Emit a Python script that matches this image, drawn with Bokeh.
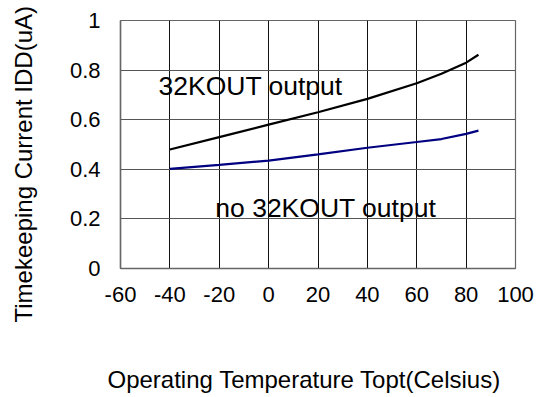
from bokeh.plotting import figure
from bokeh.models import FixedTicker, Label, Range1d, Title
from bokeh.embed import file_html
from bokeh.resources import INLINE

# Data
temp = [-40, -20, 0, 20, 40, 60, 70, 80, 85]
idd_with_32k = [0.48, 0.53, 0.58, 0.63, 0.684, 0.747, 0.785, 0.83, 0.862]
idd_no_32k = [0.402, 0.418, 0.435, 0.46, 0.487, 0.51, 0.522, 0.543, 0.556]
x_ticks = [-60, -40, -20, 0, 20, 40, 60, 80, 100]
x_tick_labels = ["-60", "-40", "-20", "0", "20", "40", "60", "80", "100"]
y_ticks = [0, 0.2, 0.4, 0.6, 0.8, 1.0]
y_tick_labels = ["0", "0.2", "0.4", "0.6", "0.8", "1"]

FONT = "Liberation Sans"
FS = "22px"
FS_T = "24px"
FS_A = "26.5px"

p = figure(width=535, height=393, output_backend="svg", toolbar_location=None,
           x_range=Range1d(-60, 100), y_range=Range1d(0, 1),
           min_border_left=120, min_border_right=20, min_border_top=20, min_border_bottom=125)

p.line(temp, idd_with_32k, line_color="#000000", line_width=2.2)
p.line(temp, idd_no_32k, line_color="#000080", line_width=2.2)

p.xaxis.ticker = FixedTicker(ticks=x_ticks)
p.yaxis.ticker = FixedTicker(ticks=y_ticks)
p.xaxis.major_label_overrides = {t: l for t, l in zip(x_ticks, x_tick_labels)}
p.yaxis.major_label_overrides = {t: l for t, l in zip(y_ticks, y_tick_labels)}

for ax in (p.xaxis[0], p.yaxis[0]):
    ax.major_tick_out = 0
    ax.major_tick_in = 0
    ax.minor_tick_out = 0
    ax.minor_tick_in = 0
    ax.axis_line_color = "#666666"
    ax.axis_line_width = 1.5
    ax.major_label_text_font = FONT
    ax.major_label_text_font_size = FS
    ax.major_label_text_color = "#000000"

p.xaxis.major_label_standoff = 18
p.yaxis.major_label_standoff = 20

p.xgrid.grid_line_color = "#111111"
p.xgrid.grid_line_width = 1
p.ygrid.grid_line_color = "#555555"
p.ygrid.grid_line_width = 1
p.outline_line_color = "#666666"
p.outline_line_width = 1.2

# spacer panels push the axis titles outward (titles are centred in their own panel)
p.add_layout(Title(text=" ", standoff=27, text_font_size="1px"), "left")
p.add_layout(Title(text=" ", standoff=56, text_font_size="1px"), "below")

p.add_layout(Title(text="Timekeeping Current IDD(uA)", align="left", offset=-54,
                   standoff=0, text_font=FONT, text_font_size=FS_T,
                   text_font_style="normal", text_color="#000000"), "left")
p.add_layout(Title(text="Operating Temperature Topt(Celsius)", align="left", offset=-13,
                   standoff=0, text_font=FONT, text_font_size=FS_T,
                   text_font_style="normal", text_color="#000000"), "below")

p.add_layout(Label(x=-44.6, y=0.735, text="32KOUT output", text_font=FONT,
                   text_font_size=FS_A, text_baseline="middle", text_align="left",
                   text_color="#000000"))
p.add_layout(Label(x=-21.6, y=0.242, text="no 32KOUT output", text_font=FONT,
                   text_font_size=FS_A, text_baseline="middle", text_align="left",
                   text_color="#000000"))

open("out.html", "w").write(file_html(p, INLINE))
